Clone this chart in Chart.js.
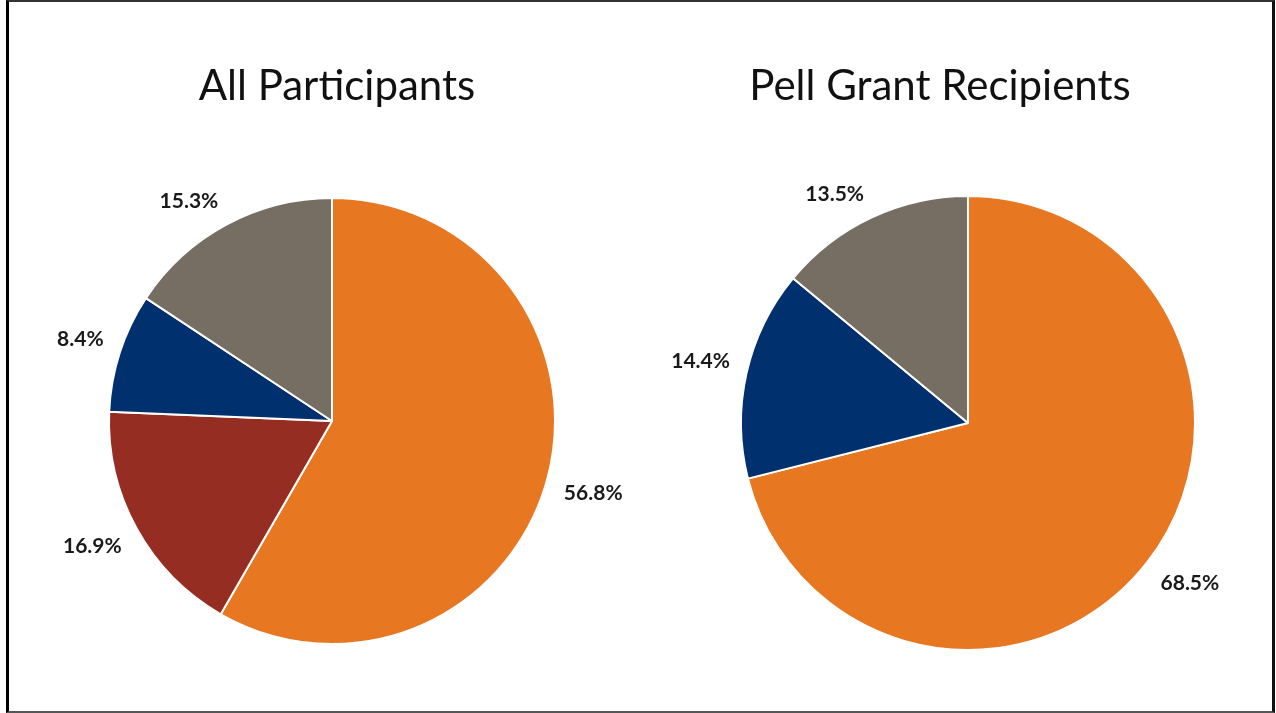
<!DOCTYPE html>
<html lang="en">
<head>
  <meta charset="UTF-8" />
  <meta name="viewport" content="width=device-width, initial-scale=1.0"/>
  <title>All Participants vs Pell Grant Recipients</title>
  <script src="https://cdn.jsdelivr.net/npm/chart.js"></script>
  <style>
    html, body {
      margin: 0;
      padding: 0;
      background: #fff;
      overflow: hidden;
    }
    body {
      position: relative;
      width: 1276px;
      height: 713px;
      font-family: Lato, 'Open Sans', sans-serif;
    }

    /* slide frame */
    .frame {
      position: absolute;
      left: 6px;
      top: 0;
      width: 1269px;
      height: 713px;
      box-sizing: border-box;
      border-top: 2px solid #333;
      border-left: 3px solid #000;
      border-right: 3px solid #111;
      border-bottom: 2px solid #555;
    }

    .panel {
      position: absolute;
      top: 0;
      width: 638px;
      height: 713px;
    }
    .panel canvas {
      position: absolute;
      left: 0;
      top: 0;
    }
    .panel h2 {
      position: absolute;
      top: 63px;
      margin: 0;
      font-size: 42px;
      line-height: 1;
      font-weight: 400;
      color: #111;
      white-space: nowrap;
      transform: translateX(-50%);
    }
  </style>
</head>
<body>
  <div class="panel" style="left:0">
    <canvas id="allChart" width="638" height="713"></canvas>
    <h2 style="left:337px">All Participants</h2>
  </div>
  <div class="panel" style="left:638px">
    <canvas id="pellChart" width="638" height="713"></canvas>
    <h2 style="left:302px">Pell Grant Recipients</h2>
  </div>
  <div class="frame"></div>

  <script>
    // share of each group, clockwise from 12 o'clock
    const allSegments = ['Group 1', 'Group 2', 'Group 3', 'Group 4'];
    const allValues = [56.8, 16.9, 8.4, 15.3];
    const allColors = ['#E87722', '#962D23', '#00306D', '#766D63'];

    const pellSegments = ['Group 1', 'Group 3', 'Group 4'];
    const pellValues = [68.5, 14.4, 13.5];
    const pellColors = ['#E87722', '#00306D', '#766D63'];

    // percentage labels outside each slice: the label box corner nearest
    // the pie sits on the slice's mid-angle ray, a little past the rim
    const pctLabels = {
      id: 'pctLabels',
      afterDatasetsDraw(chart) {
        const ctx = chart.ctx;
        const values = chart.data.datasets[0].data;
        const boxH = 18;
        ctx.save();
        ctx.font = 'bold 21px Lato, sans-serif';
        ctx.fillStyle = '#1a1a1a';
        ctx.textAlign = 'center';
        ctx.textBaseline = 'middle';
        chart.getDatasetMeta(0).data.forEach((arc, i) => {
          const p = arc.getProps(['x', 'y', 'startAngle', 'endAngle', 'outerRadius'], true);
          const mid = (p.startAngle + p.endAngle) / 2;
          const ux = Math.cos(mid);
          const uy = Math.sin(mid);
          const text = values[i].toFixed(1) + '%';
          const w = ctx.measureText(text).width;
          const d = p.outerRadius + 17;
          const cx = p.x + ux * d + Math.sign(ux) * w / 2;
          const cy = p.y + uy * d + Math.sign(uy) * boxH / 2;
          ctx.fillText(text, cx, cy + 1);
        });
        ctx.restore();
      }
    };

    function makePie(id, labels, values, colors, radius, padding) {
      return new Chart(document.getElementById(id), {
        type: 'pie',
        data: {
          labels: labels,
          datasets: [{
            data: values,
            backgroundColor: colors,
            borderColor: '#ffffff',
            borderWidth: 2,
            radius: radius
          }]
        },
        options: {
          responsive: false,
          animation: false,
          layout: { padding: padding },
          plugins: {
            legend: { display: false },
            tooltip: { enabled: false }
          }
        },
        plugins: [pctLabels]
      });
    }

    makePie('allChart', allSegments, allValues, allColors, 223, { left: 26, top: 129 });
    makePie('pellChart', pellSegments, pellValues, pellColors, 227, { left: 22, top: 133 });
  </script>
</body>
</html>
